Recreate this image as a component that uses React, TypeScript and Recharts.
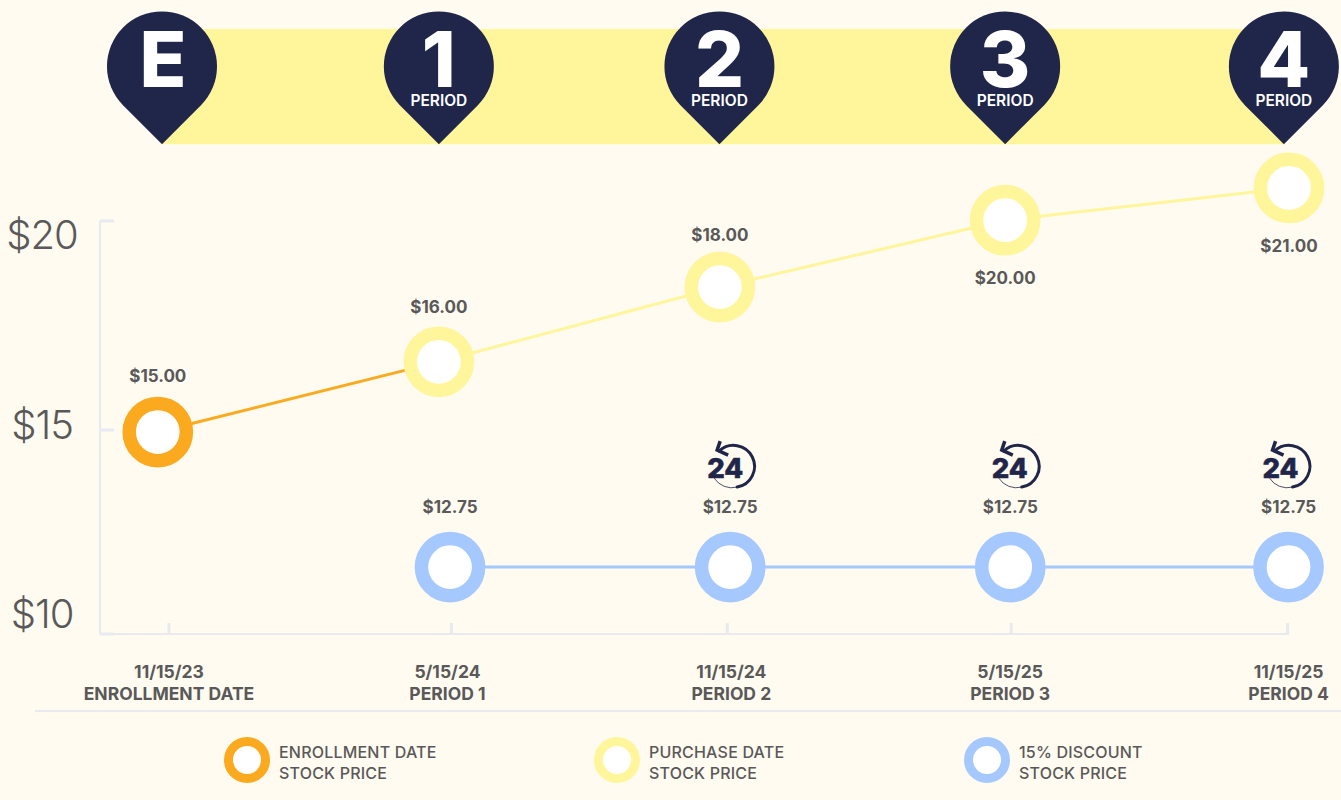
import React from 'react';
import { ComposedChart, Line, XAxis, YAxis, ReferenceArea, ReferenceLine, Legend } from 'recharts';

const enrollmentMonths = [-0.24, 5.79];
const enrollmentPlot = [14.89, 16.59];
const enrollmentLabels = ['$15.00'];

const purchaseMonths = [5.79, 11.82, 17.94, 24.03];
const purchasePlot = [16.59, 18.4, 20.02, 20.8];
const purchaseLabels = ['$16.00', '$18.00', '$20.00', '$21.00'];

const discountMonths = [6.03, 12.04, 18.05, 24.02];
const discountPlot = [11.62, 11.62, 11.62, 11.62];
const discountLabels = ['$12.75', '$12.75', '$12.75', '$12.75'];

const pinMonths = [-0.15, 5.79, 11.81, 17.94, 23.92];
const pinLevel = [21.86, 21.86, 21.86, 21.86, 21.86];
const pinLetters = ['E', '1', '2', '3', '4'];
const bannerTop = 24.65;

const xTicks = [0, 6.06, 11.98, 18.07, 24];
const xMinorTicks = [1.14, 10.81, 20.49];
const xDates = ['11/15/23', '5/15/24', '11/15/24', '5/15/25', '11/15/25'];
const xNames = ['ENROLLMENT DATE', 'PERIOD 1', 'PERIOD 2', 'PERIOD 3', 'PERIOD 4'];

const yTicks = [10, 14.94, 20];
const yMinorTicks = [13.39, 16.68];
const yLabels = ['$10', '$15', '$20'];

const legendLines = [
  ['ENROLLMENT DATE', 'STOCK PRICE'],
  ['PURCHASE DATE', 'STOCK PRICE'],
  ['15% DISCOUNT', 'STOCK PRICE'],
];

const ORANGE = '#FBA91E';
const YELLOW = '#FFF59B';
const BLUE = '#A5C8FF';
const NAVY = '#1F2649';
const GREY = '#595959';
const AXIS = '#E8EAF0';
const FAINT = '#F2F0EA';
const BG = '#FFFBF0';
const FONT = 'Inter, sans-serif';

const X_MIN = -1.48;
const X_MAX = 24.03;
const Y_DOMAIN = [10, 25.351];

const toRows = (months: number[], values: number[]) => months.map((m, i) => ({ month: m, value: values[i] }));

const Ring = ({ cx, cy, color }: any) => <circle cx={cx} cy={cy} r={28.6} fill="#fff" stroke={color} strokeWidth={13.5} />;

const ValueLabel = ({ x, y, text }: any) => (
  <text x={x} y={y} textAnchor="middle" fontFamily={FONT} fontSize={17} fontWeight={700} fill={GREY}>
    {text}
  </text>
);

const Pin = ({ cx, cy, letter, hasPeriod }: any) => (
  <g>
    <path d={`M${cx},${cy} L${cx - 39},${cy - 39} A55,55 0 1 1 ${cx + 39},${cy - 39} Z`} fill={NAVY} />
    <text x={hasPeriod ? cx : cx + 1} y={cy - 57} textAnchor="middle" fontFamily={FONT} fontSize={77} fontWeight={800} fill="#fff">
      {letter}
    </text>
    {hasPeriod && (
      <text x={cx} y={cy - 38.5} textAnchor="middle" fontFamily={FONT} fontSize={15.5} fontWeight={600} fill="#fff">
        PERIOD
      </text>
    )}
  </g>
);

// cx, cy sit 102px above the dot, the circle itself is a little to the right of that
const RolloverIcon = ({ cx, cy }: any) => (
  <g>
    <path d={`M${cx - 11},${cy - 14} A21,21 0 1 1 ${cx + 7},${cy + 22}`} fill="none" stroke={NAVY} strokeWidth={3} strokeLinecap="round" />
    <path d={`M${cx + 7},${cy + 22} A21,21 0 0 1 ${cx - 16},${cy + 13}`} fill="none" stroke={NAVY} strokeWidth={0.8} />
    <path d={`M${cx - 10},${cy - 24} L${cx - 13},${cy - 15} L${cx - 2},${cy - 10}`} fill="none" stroke={NAVY} strokeWidth={3.5} />
    <text x={cx - 5} y={cy + 13} textAnchor="middle" fontFamily={FONT} fontSize={27.5} fontWeight={800} fill={NAVY} stroke={NAVY} strokeWidth={0.6}>
      24
    </text>
  </g>
);

const iconDx = [0, 0, 4.5, -3];
const purchaseLabelDy = [-49, -46, 64, 64];
const xLabelDx = [0, -4, 4, -1, 1];

const XTick = ({ x, y, index }: any) => (
  <g>
    <line x1={x} x2={x} y1={y - 11} y2={y} stroke={AXIS} strokeWidth={3} />
    <text x={x + xLabelDx[index]} y={y + 44} textAnchor="middle" fontFamily={FONT} fontSize={17.5} fontWeight={700} fill={GREY}>
      {xDates[index]}
    </text>
    <text x={x + xLabelDx[index]} y={y + 66} textAnchor="middle" fontFamily={FONT} fontSize={17.5} fontWeight={700} fill={GREY}>
      {xNames[index]}
    </text>
  </g>
);

const MinorXTick = ({ x, y }: any) => <line x1={x} x2={x} y1={y - 11} y2={y} stroke={FAINT} strokeWidth={1} />;

const YTick = ({ x, y, index }: any) => {
  const shift = [-20, -5, 14][index];
  return (
    <g>
      <line x1={x} x2={x + 14} y1={y} y2={y} stroke={AXIS} strokeWidth={3} />
      <text x={x - 58} y={y + shift + 14} textAnchor="middle" fontFamily={FONT} fontSize={40} fontWeight={300} letterSpacing={-1} fill={GREY}>
        {yLabels[index]}
      </text>
    </g>
  );
};

const MinorYTick = ({ x, y }: any) => <line x1={x} x2={x + 12} y1={y} y2={y} stroke={FAINT} strokeWidth={1} />;

const LegendBox = () => (
  <div style={{ position: 'relative', height: 90, borderTop: `2px solid ${AXIS}`, boxSizing: 'border-box' }}>
    {legendLines.map((lines, i) => (
      <div key={i} style={{ position: 'absolute', left: 189 + i * 370, top: 25, display: 'flex', alignItems: 'center' }}>
        <div style={{ width: 28, height: 28, borderRadius: '50%', background: '#fff', border: `9px solid ${[ORANGE, YELLOW, BLUE][i]}` }} />
        <div style={{ marginLeft: 9, position: 'relative', top: 3, fontFamily: FONT, fontSize: 16, fontWeight: 500, lineHeight: '21px', letterSpacing: 0.2, color: GREY }}>
          {lines.map((l) => (
            <div key={l}>{l}</div>
          ))}
        </div>
      </div>
    ))}
  </div>
);

export default function App() {
  return (
    <div style={{ position: 'absolute', left: 0, top: 0, width: 1341, height: 800, background: BG, overflow: 'hidden' }}>
      <ComposedChart width={1341} height={800} margin={{ top: 0, right: 52, bottom: 0, left: 0 }}>
        <XAxis
          type="number"
          dataKey="month"
          domain={[X_MIN, X_MAX]}
          ticks={xTicks}
          interval={0}
          height={76}
          tickLine={false}
          tickSize={0}
          tickMargin={0}
          stroke={AXIS}
          strokeWidth={2}
          tick={<XTick />}
        />
        <XAxis xAxisId="minor" type="number" mirror domain={[X_MIN, X_MAX]} ticks={xMinorTicks} interval={0} axisLine={false} tickLine={false} tickSize={0} tickMargin={0} tick={<MinorXTick />} />
        <YAxis type="number" domain={Y_DOMAIN} ticks={yTicks} interval={0} width={100} axisLine={false} tickLine={false} tickSize={0} tickMargin={0} tick={<YTick />} />
        <YAxis yAxisId="minor" type="number" mirror domain={Y_DOMAIN} ticks={yMinorTicks} interval={0} axisLine={false} tickLine={false} tickSize={0} tickMargin={0} tick={<MinorYTick />} />
        <ReferenceArea x1={pinMonths[0]} x2={pinMonths[4]} y1={pinLevel[0]} y2={bannerTop} fill={YELLOW} fillOpacity={1} stroke="none" />
        <ReferenceLine segment={[{ x: X_MIN, y: 10 }, { x: X_MIN, y: 20 }]} stroke={AXIS} strokeWidth={2} />
        <Line
          name="pins"
          legendType="none"
          data={toRows(pinMonths, pinLevel)}
          dataKey="value"
          stroke="none"
          isAnimationActive={false}
          dot={(p: any) => <Pin key={p.index} cx={p.cx} cy={p.cy} letter={pinLetters[p.index]} hasPeriod={p.index > 0} />}
        />
        <Line
          name="enrollment"
          legendType="none"
          data={toRows(enrollmentMonths, enrollmentPlot)}
          dataKey="value"
          stroke={ORANGE}
          strokeWidth={3}
          isAnimationActive={false}
          dot={(p: any) => (p.index === 0 ? <Ring key={p.index} cx={p.cx} cy={p.cy} color={ORANGE} /> : <g key={p.index} />)}
          label={(p: any) => (p.index === 0 ? <ValueLabel key={p.index} x={p.x} y={p.y - 50} text={enrollmentLabels[0]} /> : <g key={p.index} />)}
        />
        <Line
          name="purchase"
          legendType="none"
          data={toRows(purchaseMonths, purchasePlot)}
          dataKey="value"
          stroke={YELLOW}
          strokeWidth={3}
          isAnimationActive={false}
          dot={(p: any) => <Ring key={p.index} cx={p.cx} cy={p.cy} color={YELLOW} />}
          label={(p: any) => <ValueLabel key={p.index} x={p.x} y={p.y + purchaseLabelDy[p.index]} text={purchaseLabels[p.index]} />}
        />
        <Line
          name="discount"
          legendType="none"
          data={toRows(discountMonths, discountPlot)}
          dataKey="value"
          stroke={BLUE}
          strokeWidth={3}
          isAnimationActive={false}
          dot={(p: any) => <Ring key={p.index} cx={p.cx} cy={p.cy} color={BLUE} />}
          label={(p: any) => (
            <g key={p.index}>
              <ValueLabel x={p.x} y={p.y - 54} text={discountLabels[p.index]} />
              {p.index > 0 && <RolloverIcon cx={p.x + iconDx[p.index]} cy={p.y - 102} />}
            </g>
          )}
        />
        <Legend content={<LegendBox />} wrapperStyle={{ left: 35, width: 1306, height: 90 }} />
      </ComposedChart>
    </div>
  );
}
